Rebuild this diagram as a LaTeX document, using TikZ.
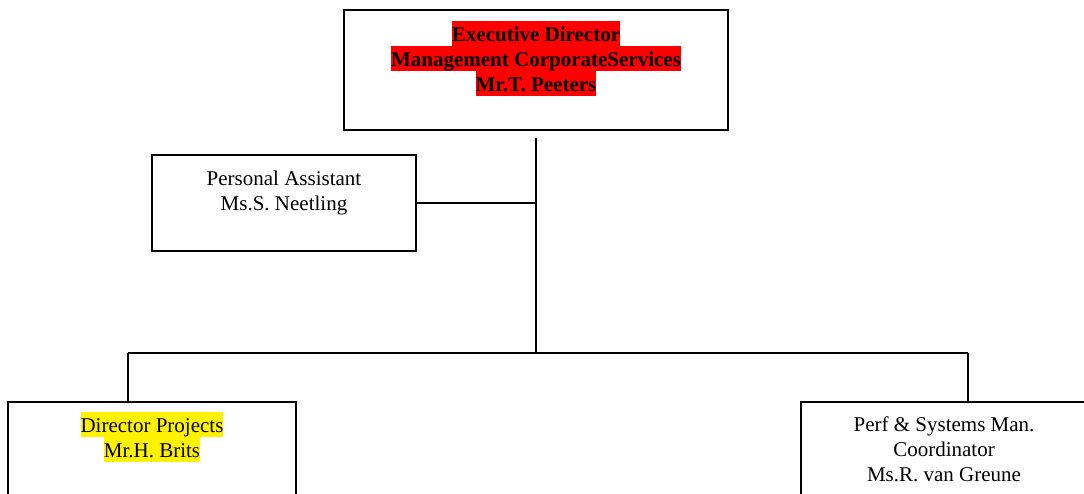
\documentclass[tikz,border=0pt]{standalone}
\usepackage{fontspec}
\setmainfont{Liberation Serif}
\newcommand\mystrut{\rule[-5pt]{0pt}{25pt}}
\newcommand\hlbox[2]{{\setlength{\fboxsep}{0pt}\colorbox{#1}{\mystrut#2}}}
\begin{document}
\begin{tikzpicture}[x=1pt,y=-1pt,
  box/.style={draw=black,line width=1.6pt,rectangle,inner sep=0pt},
  lbl/.style={anchor=north,inner sep=0pt,align=center,font=\fontsize{21}{25}\selectfont},
  conn/.style={draw=black,line width=1.6pt}]
\useasboundingbox (0,0) rectangle (1084,493);
\fill[white] (0,0) rectangle (1084,493);
% boxes
\node[box,line width=2pt,minimum width=384pt,minimum height=120pt] (top) at (536,70) {};
\node[box,minimum width=264pt,minimum height=96pt] (pa) at (284,203) {};
\node[box,minimum width=288pt,minimum height=130pt,anchor=north] (dp) at (152,401) {};
\node[box,minimum width=300pt,minimum height=130pt,anchor=north west] (ps) at (800,401) {};
% texts
\node[lbl,font=\fontsize{21}{25}\selectfont\bfseries] (toptxt) at (536,21)
  {\hlbox{red}{Executive Director}\\\hlbox{red}{Management CorporateServices}\\\hlbox{red}{Mr.T. Peeters}};
\node[lbl] (patxt) at (284,165) {\mystrut Personal Assistant\\\mystrut Ms.S. Neetling};
\node[lbl] (dptxt) at (152,412) {\hlbox{yellow}{Director Projects}\\\hlbox{yellow}{Mr.H. Brits}};
\node[lbl] (pstxt) at (944,411) {\mystrut Perf \& Systems Man.\\\mystrut Coordinator\\\mystrut Ms.R. van Greune};
% connectors
\coordinate (trunktop) at ([yshift=-7pt]top.south);
\coordinate (junc) at (trunktop |- 0,353);
\coordinate (bl) at (128,353);
\coordinate (br) at (968,353);
\draw[conn] (trunktop) -- (junc);
\draw[conn] (pa.east) -- (pa.east -| trunktop);
\draw[conn] (bl) -- (br);
\draw[conn] (bl) -- (bl |- dp.north);
\draw[conn] (br) -- (br |- ps.north);
\end{tikzpicture}
\end{document}
